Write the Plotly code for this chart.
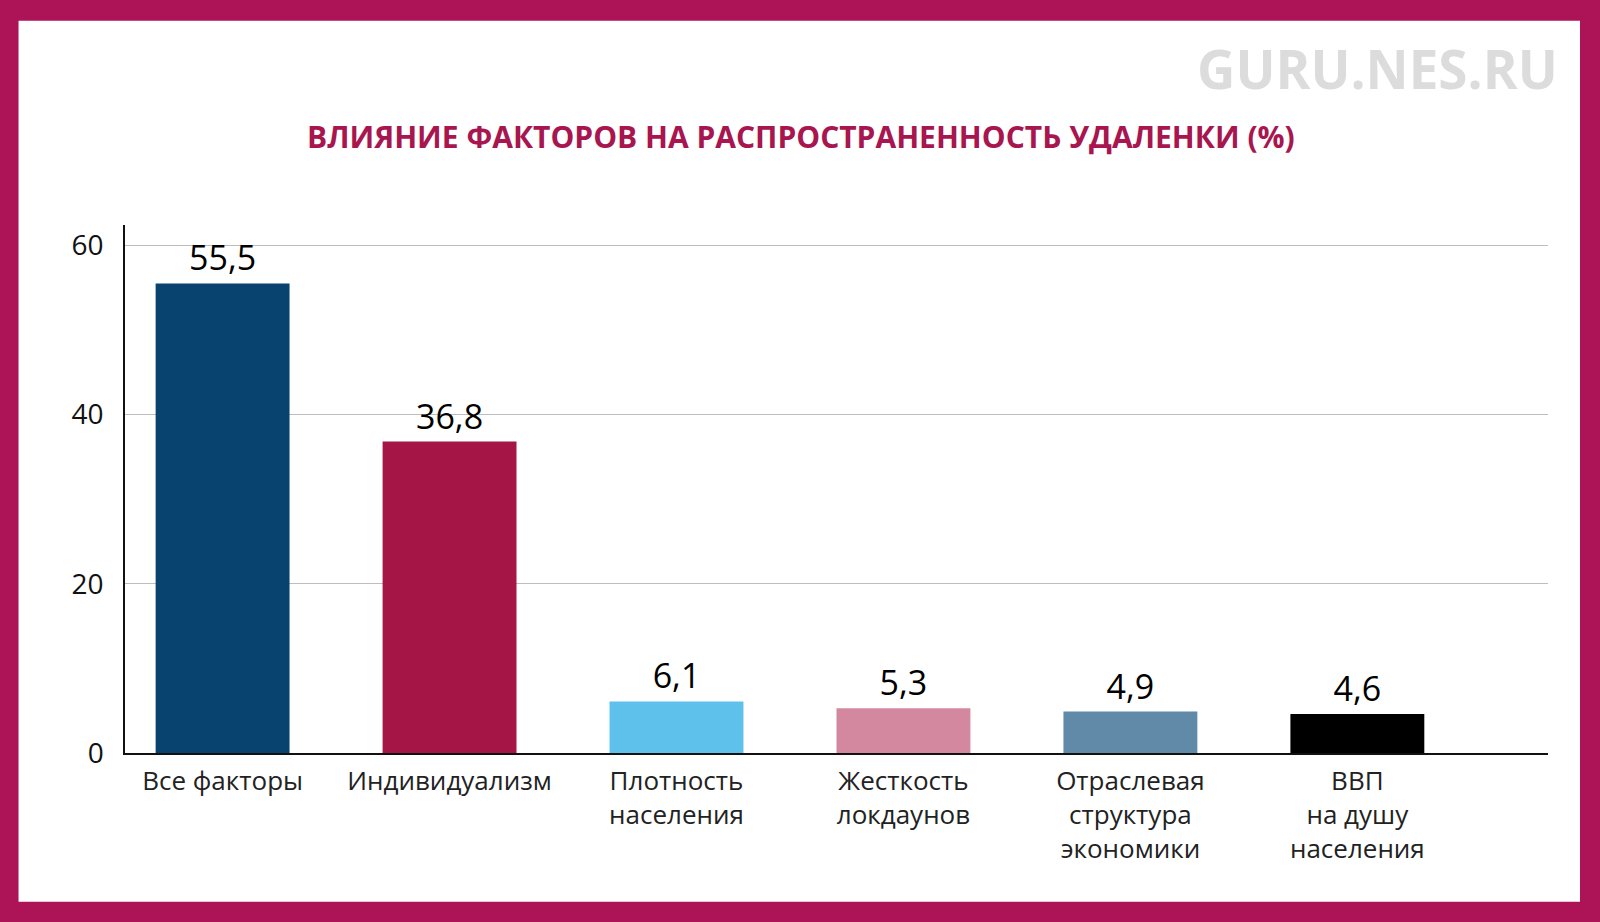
import plotly.graph_objects as go

categories = ["Все факторы", "Индивидуализм", "Плотность<br>населения",
              "Жесткость<br>локдаунов", "Отраслевая<br>структура<br>экономики",
              "ВВП<br>на душу<br>населения"]
values = [55.5, 36.8, 6.1, 5.3, 4.9, 4.6]
colors = ["#08426F", "#A51646", "#5EC1EC", "#D4889F", "#6189A8", "#000000"]
y_ticks = [0, 20, 40, 60]

W, H = 1600, 922
L, R, T, B = 124.5, 1548, 224.5, 753


def px(x):
    return (x - L) / (R - L)


def py(y):
    return (B - y) / (B - T)


fig = go.Figure()

fig.add_trace(go.Bar(
    x=categories, y=values,
    marker=dict(color=colors, line=dict(width=0)),
    texttemplate="%{y:.1f}", textposition="outside",
    textfont=dict(size=34, color="#000000", family="Open Sans"),
    cliponaxis=False, width=0.59,
))

# white card inside the magenta frame
fig.add_shape(type="rect", xref="paper", yref="paper", layer="below",
              x0=px(18), x1=px(1580), y0=py(902), y1=py(20),
              fillcolor="white", line=dict(width=0))

fig.add_annotation(text="ВЛИЯНИЕ ФАКТОРОВ НА РАСПРОСТРАНЕННОСТЬ УДАЛЕНКИ (%)",
                   xref="paper", yref="paper", x=px(801), y=py(136),
                   showarrow=False, xanchor="center", yanchor="middle",
                   font=dict(family="Open Sans", size=30, color="#A8154F", weight="bold"))
fig.add_annotation(text="GURU.NES.RU",
                   xref="paper", yref="paper", x=px(1560), y=py(68),
                   showarrow=False, xanchor="right", yanchor="middle",
                   font=dict(family="Open Sans", size=53, color="#DCDCDC", weight="bold"))

fig.update_layout(
    width=W, height=H,
    margin=dict(l=L, r=W - R, t=T, b=H - B),
    paper_bgcolor="#AD1457",
    plot_bgcolor="white",
    separators=",.",
    showlegend=False,
    font=dict(family="Open Sans", color="#111111"),
    xaxis=dict(
        range=[-0.43, 5.84], showline=True, linecolor="#111111", linewidth=2,
        showgrid=False, ticks="", tickfont=dict(size=26, color="#222222"),
        ticklabelstandoff=4,
    ),
    yaxis=dict(
        range=[0, 62.4], tickvals=y_ticks, showline=True, linecolor="#111111",
        linewidth=1.5, showgrid=True, gridcolor="#BDBDBD", gridwidth=1,
        zeroline=False, ticks="", tickfont=dict(size=28, color="#111111"),
        ticklabelstandoff=14,
    ),
)

fig.write_html("out.html", config={"displayModeBar": False},
               post_script="document.body.style.margin='0';document.body.style.overflow='hidden';")
